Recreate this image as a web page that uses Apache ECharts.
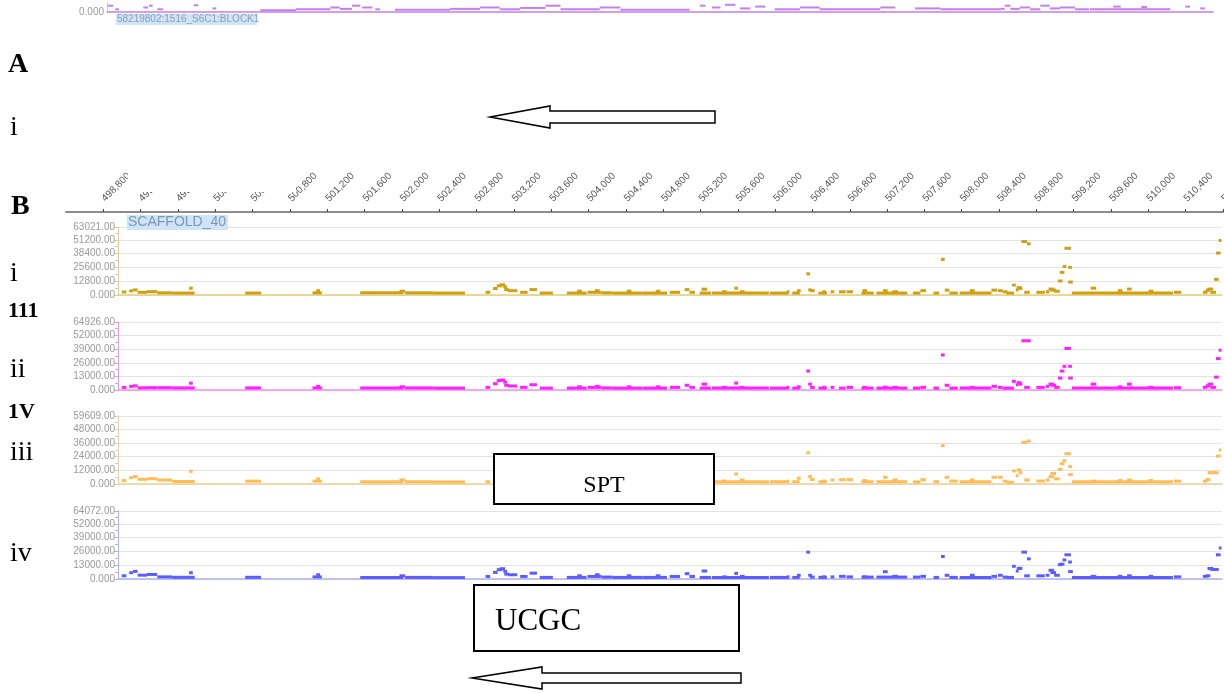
<!DOCTYPE html>
<html>
<head>
<meta charset="utf-8">
<title>SCAFFOLD_40</title>
<script src="https://cdn.jsdelivr.net/npm/echarts@6.0.0/dist/echarts.min.js"></script>
<style>
    html, body { margin: 0; padding: 0; background: #fff; }
    #chart { width: 1224px; height: 693px; }
</style>
</head>
<body>
<div id="chart"></div>
<script>
// ruler ticks (bp)
var RULER_TICKS = [498800, 499200, 499600, 500000, 500400, 500800, 501200, 501600, 502000, 502400,
    502800, 503200, 503600, 504000, 504400, 504800, 505200, 505600, 506000, 506400,
    506800, 507200, 507600, 508000, 508400, 508800, 509200, 509600, 510000, 510400, 510800];

// block track (A) : segments and levels
var BLOCK_START = [498850, 498930, 499230, 499290, 499380, 499770, 499970, 500480, 500860, 501230,
    501330, 501460, 501570, 501710, 501920, 502510, 502830, 503040, 503260, 503530,
    503690, 504110, 504330, 505180, 505310, 505450, 505610, 505770, 505980, 506250,
    506460, 507110, 507480, 507750, 508390, 508440, 508500, 508600, 508710, 508820,
    508920, 509030, 509190, 509350, 509600, 509900, 510370, 510530];
var BLOCK_END = [498910, 498970, 499280, 499330, 499440, 499820, 500010, 500860, 501230, 501330,
    501460, 501550, 501680, 501760, 502510, 502830, 503040, 503260, 503530, 503690,
    504110, 504330, 505070, 505240, 505400, 505560, 505720, 505880, 506250, 506460,
    507110, 507270, 507750, 508390, 508440, 508500, 508600, 508710, 508820, 508920,
    509030, 509190, 509340, 510210, 509680, 509960, 510420, 510580];
var BLOCK_LEVEL = [0.7, 0.3, 0.5, 0.7, 0.3, 0.75, 0.4, 0.2, 0.3, 0.5,
    0.35, 0.7, 0.5, 0.3, 0.25, 0.35, 0.5, 0.3, 0.45, 0.7,
    0.3, 0.5, 0.25, 0.7, 0.5, 0.8, 0.4, 0.6, 0.3, 0.5,
    0.3, 0.5, 0.4, 0.3, 0.35, 0.7, 0.35, 0.5, 0.3, 0.7,
    0.4, 0.5, 0.3, 0.3, 0.6, 0.55, 0.6, 0.4];

// coverage features on SCAFFOLD_40, shared positions (bp)
var SEG_START = [499000, 499080, 499120, 499170, 499270, 499380, 499540, 499720, 500320, 501040,
    501080, 501550, 501970, 502030, 502330, 502890, 502970, 503010, 503040, 503080,
    503090, 503130, 503260, 503360, 503470, 503760, 503870, 503980, 504060, 504130,
    504250, 504400, 504570, 504710, 504860, 505020, 505070, 505180, 505200, 505310,
    505420, 505550, 505610, 505930, 506110, 506170, 506220, 506320, 506340, 506360,
    506450, 506490, 506580, 506670, 506750, 506910, 506920, 507070, 507140, 507240,
    507460, 507540, 507680, 507760, 507800, 507850, 507960, 508070, 508300, 508370,
    508420, 508460, 508520, 508560, 508570, 508590, 508620, 508680, 508650, 508780,
    508880, 508910, 508930, 508970, 509010, 509030, 509060, 509080, 509120, 509120,
    509160, 509360, 509650, 509750, 509980, 510250, 510560, 510590, 510610, 510640,
    510680, 510700, 510730];
var SEG_END = [499050, 499120, 499170, 499270, 499380, 499540, 499780, 499760, 500490, 501140,
    501120, 502010, 502030, 502330, 502670, 502940, 503020, 503070, 503100, 503120,
    503140, 503230, 503340, 503440, 503610, 503970, 503920, 504130, 504110, 504250,
    504570, 504450, 504830, 504760, 504970, 505070, 505130, 505300, 505260, 505920,
    505470, 505590, 505660, 506130, 506140, 506250, 506260, 506360, 506380, 506410,
    506540, 506530, 506620, 506740, 506820, 507040, 506970, 507400, 507190, 507300,
    507540, 507600, 507740, 507800, 507850, 507940, 508300, 508120, 508360, 508420,
    508470, 508540, 508560, 508590, 508620, 508630, 508680, 508720, 508710, 508870,
    508920, 508970, 508990, 509030, 509060, 509080, 509100, 509150, 509160, 509170,
    510240, 509420, 509700, 509800, 510030, 510330, 510610, 510640, 510670, 510700,
    510730, 510750, 510760];

var TRACK_I = [2800, 3800, 4700, 2500, 3100, 2000, 1800, 6300, 1800, 2000,
    4000, 2000, 3500, 2000, 1800, 2500, 6000, 8500, 9500, 7500,
    5000, 4000, 2500, 5000, 1800, 1800, 3500, 2500, 4000, 2000,
    1800, 3500, 1800, 3500, 2500, 5000, 2500, 1800, 5400, 1800,
    3000, 6300, 3000, 1800, 3000, 1800, 4000, 19600, 4700, 4000,
    1800, 3000, 3000, 3000, 3000, 1800, 4000, 1800, 4000, 3000,
    1800, 4000, 1800, 33000, 4500, 1800, 1800, 4000, 4500, 4000,
    3000, 1800, 9200, 4700, 6900, 6000, 49600, 47400, 2500, 2500,
    3000, 5500, 4500, 3500, 13000, 21000, 26500, 43300, 25600, 12000,
    1800, 6300, 4000, 5500, 3500, 2500, 2500, 4500, 5500, 2500,
    14500, 38900, 50500];
var TRACK_II = [2500, 3400, 4000, 2100, 2200, 2200, 2000, 6500, 2000, 2000,
    3500, 2000, 3000, 2000, 1800, 2500, 6000, 9000, 9500, 7500,
    4500, 3800, 2500, 5000, 1800, 1800, 3000, 2500, 3500, 2000,
    1800, 3000, 1800, 3000, 2500, 4500, 2500, 1800, 5600, 1800,
    2500, 6600, 2500, 1800, 2500, 1800, 3000, 18100, 5600, 2500,
    1800, 2500, 2500, 1800, 2500, 1800, 2500, 1800, 2700, 2500,
    1800, 2500, 1800, 33500, 4500, 1800, 1800, 2500, 3500, 2500,
    1800, 1800, 8200, 5000, 7000, 5600, 47000, 47000, 2500, 2500,
    3500, 5600, 4500, 2500, 11400, 18100, 22600, 39700, 22600, 11400,
    1800, 5600, 3000, 5600, 2500, 2200, 2500, 4000, 5600, 2500,
    12300, 30000, 38000];
var TRACK_III = [3000, 5500, 6400, 4100, 4600, 3500, 2200, 11100, 2500, 2500,
    4500, 2000, 3500, 2000, 1800, 2000, 5500, 8000, 9000, 7000,
    5000, 4000, 2500, 5000, 1800, 1800, 3500, 2500, 4000, 2000,
    1800, 3500, 1800, 3500, 2500, 5000, 2500, 2000, 5500, 2000,
    2600, 8800, 3500, 2000, 2500, 2000, 5000, 27400, 6600, 4000,
    2000, 2600, 3500, 3800, 3800, 2000, 3000, 2000, 5900, 3500,
    1800, 3800, 2000, 33600, 5900, 2500, 2000, 3500, 5900, 5900,
    2500, 1500, 11400, 7300, 12300, 9900, 36500, 37700, 3500, 2600,
    3500, 6400, 9300, 4500, 12800, 17800, 20400, 26600, 15200, 8200,
    2000, 2500, 3000, 3500, 3000, 2500, 2500, 4000, 9900, 9900,
    9900, 24500, 29800];
var TRACK_IV = [3000, 5900, 7200, 3600, 4300, 2000, 1600, 5900, 1600, 2000,
    4000, 1500, 3000, 1500, 1300, 2400, 6200, 8800, 9700, 7200,
    4600, 4000, 2400, 5500, 1500, 1500, 3000, 2400, 4000, 1800,
    1500, 3000, 1500, 3000, 2400, 5000, 2400, 1500, 7500, 1500,
    2000, 5300, 2500, 1500, 2000, 1500, 3500, 25300, 3500, 1800,
    1600, 2000, 2000, 2500, 2000, 1800, 2000, 1800, 6900, 2500,
    1800, 2500, 1500, 21200, 3500, 1500, 1500, 3500, 2500, 3500,
    1800, 1500, 12000, 7500, 10000, 10000, 25300, 19000, 3000, 3000,
    3500, 8200, 6000, 3500, 13500, 14000, 18000, 22800, 16000, 7000,
    1500, 2500, 2500, 3000, 2500, 2000, 2500, 3000, 9900, 9000,
    9000, 22800, 29200];

var TRACK_MAX = [63021, 64926, 59609, 64072];
var TRACK_STEP = [12800, 13000, 12000, 13000];
var TRACKS = [TRACK_I, TRACK_II, TRACK_III, TRACK_IV];

// look
var DASH_COLORS = ['#cfa012', '#ff1fff', '#fcbd57', '#5c5cff'];
var AXIS_COLORS = ['#e6cf7a', '#f68ff6', '#f4cf90', '#aeaeff'];
var TRACK_TOP = [227, 322, 416, 511];
var TRACK_H = 68;
var SANS = '"Liberation Sans", Arial, sans-serif';
var SERIF = '"Liberation Serif", "Times New Roman", serif';

var chart = echarts.init(document.getElementById("chart"));

function dash_renderer(thick) {
    return function (params, api) {
        var a = api.coord([api.value(0), api.value(2)]);
        var b = api.coord([api.value(1), api.value(2)]);
        var cs = params.coordSys;
        var r = echarts.graphic.clipRectByRect(
            {x: a[0], y: a[1] - thick / 2, width: Math.max(b[0] - a[0], 2), height: thick},
            {x: cs.x, y: cs.y - 4, width: cs.width, height: cs.height + 4}
        );
        if (!r) return;
        return {type: "rect", shape: r, style: {fill: api.visual("color")}};
    };
}

function label_fmt(v) {
    if (v == 0) return "0.000";
    return v.toFixed(2);
}

var grids = [], xAxes = [], yAxes = [], series = [];

// A : block strip
grids.push({left: 107, right: 11, top: 3, height: 9, outerBoundsMode: "none"});
xAxes.push({
    type: "value", gridIndex: 0, min: 498842, max: 510666,
    axisLine: {lineStyle: {color: "#c27ff0", width: 1.5}},
    axisTick: {show: false}, axisLabel: {show: false}, splitLine: {show: false}
});
yAxes.push({
    type: "value", gridIndex: 0, min: 0, max: 1, interval: 1,
    axisLine: {show: true, lineStyle: {color: "#d6c2ea"}},
    axisTick: {show: false}, splitLine: {show: false},
    axisLabel: {
        color: "#9a9a9a", fontSize: 10, fontFamily: SANS, margin: 3,
        formatter: function (v) { return v == 0 ? "0.000" : ""; }
    }
});
var blockData = [];
for (var i = 0; i < BLOCK_START.length; i++) blockData.push([BLOCK_START[i], BLOCK_END[i], BLOCK_LEVEL[i]]);
series.push({
    type: "custom", xAxisIndex: 0, yAxisIndex: 0, renderItem: dash_renderer(2),
    itemStyle: {color: "#c77dee"}, encode: {x: [0, 1], y: 2}, data: blockData, silent: true
});

// B : ruler
grids.push({left: 66, width: 1157, top: 211, height: 1, outerBoundsMode: "none"});
xAxes.push({
    type: "value", gridIndex: 1, position: "top", min: 498400, max: 510800, interval: 400,
    axisLine: {lineStyle: {color: "#8c8c8c", width: 2}},
    axisTick: {show: true, length: 3, lineStyle: {color: "#444"}, customValues: RULER_TICKS},
    axisLabel: {
        rotate: 45, fontSize: 10, fontFamily: SANS, color: "#555", margin: 11,
        customValues: RULER_TICKS,
        formatter: function (v) { return v.toLocaleString("en-US"); }
    },
    splitLine: {show: false}
});
yAxes.push({type: "value", gridIndex: 1, show: false});

// B : coverage tracks
for (var t = 0; t < 4; t++) {
    var g = t + 2;
    grids.push({left: 118, right: 2, top: TRACK_TOP[t], height: TRACK_H, outerBoundsMode: "none"});
    xAxes.push({
        type: "value", gridIndex: g, min: 498960, max: 510765,
        axisLine: {lineStyle: {color: AXIS_COLORS[t], width: 1.5}},
        axisTick: {show: false}, axisLabel: {show: false}, splitLine: {show: false}
    });
    yAxes.push({
        type: "value", gridIndex: g, min: 0, max: TRACK_MAX[t], interval: TRACK_STEP[t],
        axisLine: {show: true, lineStyle: {color: AXIS_COLORS[t]}},
        axisTick: {show: true, length: 4, lineStyle: {color: AXIS_COLORS[t]}},
        minorTick: {show: true, splitNumber: 2, length: 3, lineStyle: {color: AXIS_COLORS[t]}},
        splitLine: {show: true, lineStyle: {color: "#e3e3e3"}},
        axisLabel: {color: "#9a9a9a", fontSize: 10, fontFamily: SANS, margin: 3, formatter: label_fmt}
    });
    var d = [];
    for (var k = 0; k < SEG_START.length; k++) {
        if (TRACKS[t][k] == null) continue;
        d.push([SEG_START[k], SEG_END[k], TRACKS[t][k]]);
    }
    series.push({
        type: "custom", xAxisIndex: g, yAxisIndex: g, renderItem: dash_renderer(3),
        itemStyle: {color: DASH_COLORS[t]}, encode: {x: [0, 1], y: 2}, data: d, silent: true
    });
}

// annotations drawn over the browser picture
function txt(x, y, s, size, bold, extra) {
    var o = {
        type: "text", x: x, y: y, z: 200,
        style: {text: s, fontSize: size, fontFamily: SERIF, fontWeight: bold ? "bold" : "normal",
            fill: "#000", verticalAlign: "middle", align: "left"}
    };
    if (extra) for (var key in extra) o.style[key] = extra[key];
    return o;
}

function arrow(tipX, y, headX, endX, headH, shaftH) {
    return {
        type: "polygon", z: 200,
        shape: {points: [[tipX, y], [headX, y - headH / 2], [headX, y - shaftH / 2], [endX, y - shaftH / 2],
            [endX, y + shaftH / 2], [headX, y + shaftH / 2], [headX, y + headH / 2]]},
        style: {fill: "#fff", stroke: "#000", lineWidth: 1.5}
    };
}

var graphics = [
    // white patch hiding part of the ruler labels
    {type: "rect", z: 150, shape: {x: 128, y: 150, width: 168, height: 42}, style: {fill: "#fff"}},
    // track name tags
    {type: "rect", z: 150, shape: {x: 116, y: 14, width: 141, height: 11}, style: {fill: "#cfe5f7"}},
    {type: "text", z: 151, x: 117, y: 19.5, style: {text: "58219802:1516_S6C1:BLOCK1", fontSize: 10,
        fontFamily: SANS, fill: "#87a0ba", verticalAlign: "middle"}},
    {type: "rect", z: 150, shape: {x: 127, y: 215, width: 101, height: 15}, style: {fill: "#cfe5f7"}},
    {type: "text", z: 151, x: 128, y: 222.5, style: {text: "SCAFFOLD_40", fontSize: 14,
        fontFamily: SANS, fill: "#7d98b3", verticalAlign: "middle"}},
    // panel letters and numerals
    txt(8, 65, "A", 28, true),
    txt(10, 128, "i", 28, false),
    txt(11, 207, "B", 28, true),
    txt(10, 274, "i", 28, false),
    txt(8, 311, "111", 22, true),
    txt(10, 370, "ii", 28, false),
    txt(8, 412, "1V", 22, true),
    txt(10, 453, "iii", 28, false),
    txt(10, 554, "iv", 28, false),
    // arrows
    arrow(490, 117, 550, 715, 22, 12),
    arrow(472, 678, 542, 741, 22, 10),
    // boxes
    {type: "rect", z: 190, shape: {x: 494, y: 454, width: 220, height: 50},
        style: {fill: "#fff", stroke: "#000", lineWidth: 2}},
    txt(604, 486, "SPT", 24, false, {align: "center"}),
    {type: "rect", z: 190, shape: {x: 474, y: 585, width: 265, height: 66},
        style: {fill: "#fff", stroke: "#000", lineWidth: 2}},
    txt(495, 622, "UCGC", 31, false)
];

chart.setOption({
    backgroundColor: "#fff",
    animation: false,
    grid: grids,
    xAxis: xAxes,
    yAxis: yAxes,
    series: series,
    graphic: graphics
});
</script>
</body>
</html>
